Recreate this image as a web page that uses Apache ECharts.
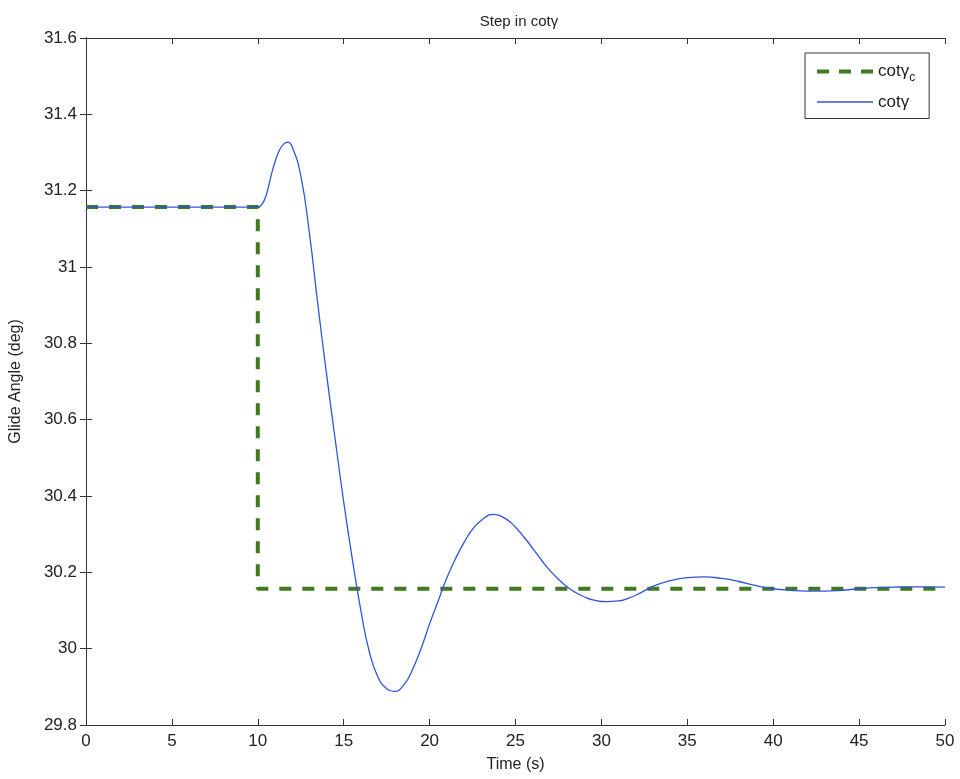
<!DOCTYPE html>
<html>
<head>
<meta charset="utf-8">
<script src="https://cdn.jsdelivr.net/npm/echarts@6/dist/echarts.min.js"></script>
<style>html,body{margin:0;padding:0;background:#fff}#c{width:960px;height:779px}</style>
</head>
<body>
<div id="c"></div>
<script>
// Commanded step (cotγ_c)
const cmdTime = [0, 10, 10, 50];
const cmdValue = [31.157, 31.157, 30.157, 30.157];
// Response (cotγ)
const respTime = [0, 9.5, 10, 10.25, 10.5, 10.75, 11.0, 11.25, 11.5, 11.75, 12.0, 12.5, 13.0, 13.5, 14.0, 14.5, 15.0, 15.5, 16.0, 16.5, 17.0, 17.5, 17.95, 18.5, 19.0, 19.5, 20.0, 20.5, 21.0, 21.5, 22.0, 22.5, 23.0, 23.75, 24.5, 25.0, 25.5, 26.0, 26.5, 27.0, 27.5, 28.0, 28.5, 29.0, 29.5, 30.3, 31.0, 31.5, 32.0, 33.0, 34.0, 35.0, 36.0, 37.0, 38.0, 39.0, 40.0, 41.0, 42.0, 43.0, 44.0, 45.0, 46.0, 47.0, 48.0, 49.0, 50.0];
const respValue = [31.157, 31.157, 31.157, 31.165, 31.19, 31.235, 31.275, 31.305, 31.322, 31.327, 31.315, 31.24, 31.09, 30.90, 30.72, 30.55, 30.385, 30.235, 30.10, 29.99, 29.925, 29.895, 29.888, 29.905, 29.945, 30.00, 30.065, 30.125, 30.185, 30.235, 30.278, 30.313, 30.336, 30.352, 30.338, 30.318, 30.292, 30.263, 30.233, 30.205, 30.182, 30.162, 30.147, 30.136, 30.128, 30.123, 30.125, 30.131, 30.14, 30.163, 30.178, 30.186, 30.188, 30.184, 30.176, 30.165, 30.157, 30.153, 30.151, 30.151, 30.153, 30.157, 30.16, 30.161, 30.162, 30.162, 30.161];
const xTicks = [0, 5, 10, 15, 20, 25, 30, 35, 40, 45, 50];
const yTicks = [29.8, 30, 30.2, 30.4, 30.6, 30.8, 31, 31.2, 31.4, 31.6];

const FONT = 'Liberation Sans';
const GREEN = '#3f7a1e', BLUE = '#2f55d8';
const chart = echarts.init(document.getElementById('c'));
const axisLine = {show: true, lineStyle: {color: '#333', width: 1}};
const tick = {show: true, inside: true, length: 6, lineStyle: {color: '#333'}};
const fmtY = v => String(parseFloat(v.toFixed(1)));
chart.setOption({
  animation: false,
  backgroundColor: '#fff',
  title: {
    text: 'Step in cotγ', left: 514, top: 9, textAlign: 'center',
    textStyle: {fontFamily: FONT, fontSize: 15, fontWeight: 'normal', color: '#222'}
  },
  grid: {left: 84, right: 15, top: 38, bottom: 54},
  legend: {
    orient: 'vertical', left: 805, top: 53,
    padding: [10, 14, 8, 10], itemGap: 10, itemWidth: 56, itemHeight: 14,
    borderColor: '#333', borderWidth: 1, backgroundColor: '#fff',
    itemStyle: {opacity: 0},
    textStyle: {fontFamily: FONT, fontSize: 17, color: '#222',
      rich: {a: {fontFamily: FONT, fontSize: 17, color: '#222'},
             s: {fontFamily: FONT, fontSize: 12, color: '#222', padding: [12, 0, 0, 0]}}},
    formatter: n => n === 'cmd' ? '{a|cotγ}{s|c}' : '{a|cotγ}',
    data: [
      {name: 'cmd', itemStyle: {opacity: 0}, lineStyle: {color: GREEN, width: 4, type: [12, 10]}},
      {name: 'resp', itemStyle: {opacity: 0}, lineStyle: {color: BLUE, width: 1.3}}
    ]
  },
  xAxis: [{
    type: 'value', min: 0, max: 50, interval: 5, position: 'bottom',
    name: 'Time (s)', nameLocation: 'middle', nameGap: 32,
    nameTextStyle: {fontFamily: FONT, fontSize: 16, color: '#222'},
    axisLine, axisTick: tick, splitLine: {show: false},
    axisLabel: {fontFamily: FONT, fontSize: 17, color: '#222', margin: 8,
      formatter: v => xTicks.includes(v) ? String(v) : ''}
  }, {
    type: 'value', min: 0, max: 50, interval: 5, position: 'top',
    axisLine, axisTick: tick, splitLine: {show: false}, axisLabel: {show: false}
  }],
  yAxis: [{
    type: 'value', min: 29.8, max: 31.6, interval: 0.2, position: 'left',
    name: 'Glide Angle (deg)', nameLocation: 'middle', nameGap: 62,
    nameTextStyle: {fontFamily: FONT, fontSize: 16, color: '#222'},
    axisLine, axisTick: tick, splitLine: {show: false},
    axisLabel: {fontFamily: FONT, fontSize: 17, color: '#222', margin: 9, formatter: fmtY}
  }, {
    type: 'value', min: 29.8, max: 31.6, interval: 0.2, position: 'right',
    axisLine, axisTick: tick, splitLine: {show: false}, axisLabel: {show: false}
  }],
  series: [{
    name: 'cmd', type: 'line', showSymbol: false, symbol: 'none',
    data: cmdTime.map((t, i) => [t, cmdValue[i]]),
    lineStyle: {color: GREEN, width: 4, type: [12, 11]},
    itemStyle: {color: GREEN}, z: 2
  }, {
    name: 'resp', type: 'line', showSymbol: false, symbol: 'none', smooth: 0.5,
    data: respTime.map((t, i) => [t, respValue[i]]),
    lineStyle: {color: BLUE, width: 1.3},
    itemStyle: {color: BLUE}, z: 3
  }]
});
</script>
</body>
</html>
